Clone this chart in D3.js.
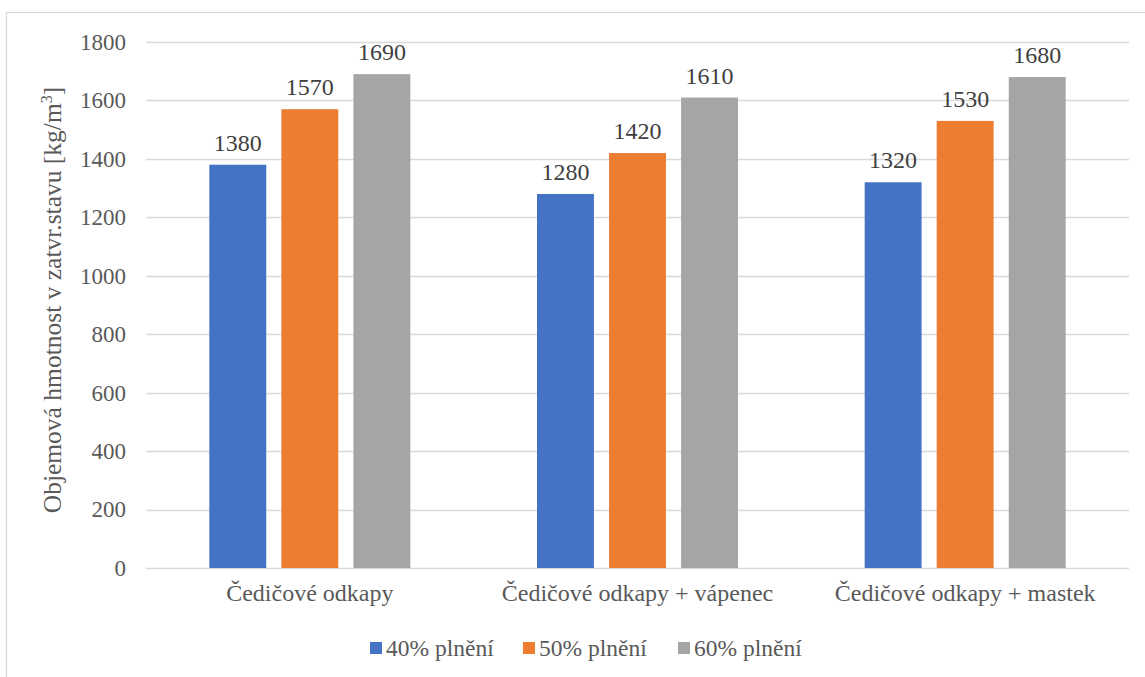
<!DOCTYPE html>
<html>
<head>
<meta charset="utf-8">
<script src="https://cdn.jsdelivr.net/npm/d3@7"></script>
<style>
  html, body { margin: 0; padding: 0; background: #fff; }
  svg { display: block; }
</style>
</head>
<body>
<svg id="chart" width="1145" height="677" font-family="Liberation Serif"></svg>
<script>
// Bulk density in the closed state for three filler mixtures
const categories = ["Čedičové odkapy", "Čedičové odkapy + vápenec", "Čedičové odkapy + mastek"];
const seriesNames = ["40% plnění", "50% plnění", "60% plnění"];
const fill40 = [1380, 1280, 1320];
const fill50 = [1570, 1420, 1530];
const fill60 = [1690, 1610, 1680];
const yTicks = [0, 200, 400, 600, 800, 1000, 1200, 1400, 1600, 1800];
const yTitle = "Objemová hmotnost v zatvr.stavu [kg/m";
const colors = ["#4472c4", "#ed7d31", "#a5a5a5"];

const series = [fill40, fill50, fill60];
const rows = categories.map((c, i) => ({
  category: c,
  values: seriesNames.map((s, j) => ({ key: s, value: series[j][i], color: colors[j] }))
}));

const svg = d3.select("#chart");
const W = 1145, H = 677;
const plot = { left: 146, right: 1129, top: 42, bottom: 568 };
const serif = "Liberation Serif";

// Outer chart frame
svg.append("rect")
  .attr("x", 6.5).attr("y", 12.5)
  .attr("width", W + 10).attr("height", H + 10)
  .attr("fill", "none").attr("stroke", "#d9d9d9").attr("stroke-width", 1.3);

const y = d3.scaleLinear().domain([0, 1800]).range([plot.bottom, plot.top]);
const x0 = d3.scaleBand().domain(categories).range([plot.left, plot.right]).padding(0);
const groupW = 201;
const x1 = d3.scaleBand().domain(seriesNames)
  .range([(x0.bandwidth() - groupW) / 2, (x0.bandwidth() + groupW) / 2])
  .paddingInner(0.21).paddingOuter(0);

// Horizontal gridlines
svg.append("g").selectAll("line").data(yTicks).join("line")
  .attr("x1", plot.left).attr("x2", plot.right)
  .attr("y1", d => Math.round(y(d)) + 0.5).attr("y2", d => Math.round(y(d)) + 0.5)
  .attr("stroke", "#d9d9d9").attr("stroke-width", 1.3);

// Y axis tick labels
const yAxis = d3.axisLeft(y).tickValues(yTicks).tickFormat(d3.format("d")).tickSize(0).tickPadding(20);
const gy = svg.append("g").attr("transform", `translate(${plot.left},0)`).call(yAxis)
  .attr("font-family", serif);
gy.select(".domain").remove();
gy.selectAll("text")
  .attr("font-family", serif)
  .attr("font-size", 23).attr("fill", "#595959");

// Y axis title with superscript
const yt = svg.append("text")
  .attr("transform", `translate(61,300) rotate(-90)`)
  .attr("text-anchor", "middle")
  .attr("font-family", serif)
  .attr("font-size", 25.5).attr("fill", "#595959");
yt.append("tspan").text(yTitle);
yt.append("tspan").attr("font-size", 16).attr("dy", -9).text("3");
yt.append("tspan").attr("dy", 9).text("]");

// Bars
const groups = svg.append("g").selectAll("g").data(rows).join("g")
  .attr("transform", d => `translate(${x0(d.category)},0)`);

groups.selectAll("rect").data(d => d.values).join("rect")
  .attr("x", d => x1(d.key))
  .attr("y", d => y(d.value))
  .attr("width", x1.bandwidth())
  .attr("height", d => y(0) - y(d.value))
  .attr("fill", d => d.color);

// Value labels above bars
groups.selectAll("text.val").data(d => d.values).join("text")
  .attr("class", "val")
  .attr("x", d => x1(d.key) + x1.bandwidth() / 2)
  .attr("y", d => y(d.value) - 14)
  .attr("text-anchor", "middle")
  .attr("font-family", serif)
  .attr("font-size", 24).attr("fill", "#404040")
  .text(d => d.value);

// Category axis labels
const xAxis = d3.axisBottom(x0).tickSize(0).tickPadding(16);
const gx = svg.append("g").attr("transform", `translate(0,${plot.bottom})`).call(xAxis)
  .attr("font-family", serif);
gx.select(".domain").remove();
gx.selectAll("text")
  .attr("font-family", serif)
  .attr("font-size", 24).attr("fill", "#595959");

// Legend
const legendX = [370, 523, 678];
const lg = svg.append("g").selectAll("g").data(seriesNames).join("g")
  .attr("transform", (d, i) => `translate(${legendX[i]},642)`);
lg.append("rect").attr("width", 12).attr("height", 12)
  .attr("fill", (d, i) => colors[i]);
lg.append("text").attr("x", 16).attr("y", 14)
  .attr("font-family", serif)
  .attr("font-size", 23.5).attr("fill", "#595959")
  .text(d => d);
</script>
</body>
</html>
